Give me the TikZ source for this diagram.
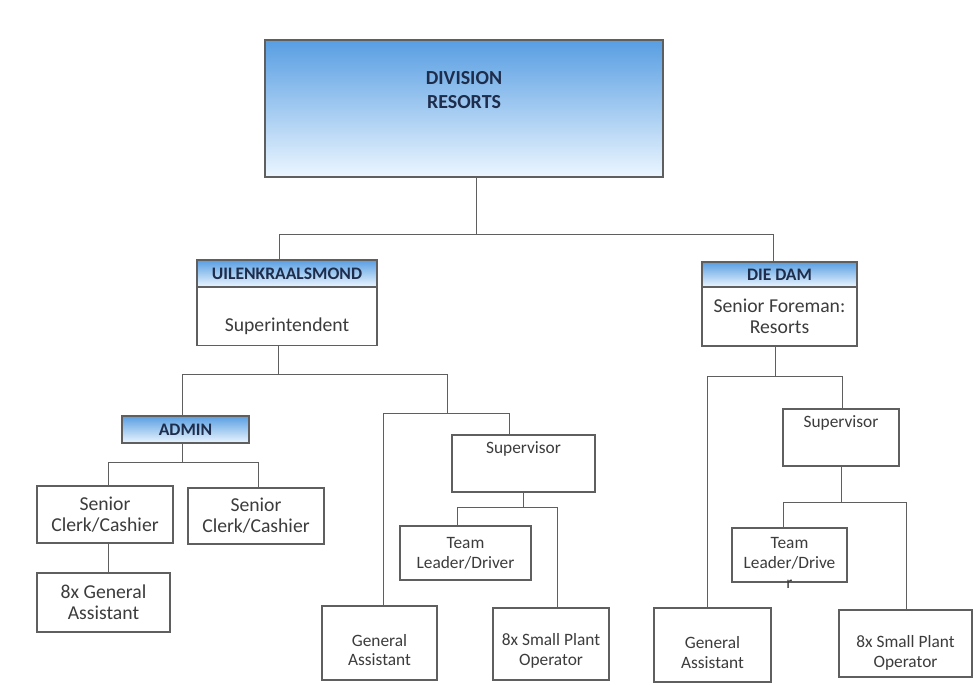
\documentclass[tikz,border=0pt]{standalone}
\usepackage{fontspec}
\setmainfont{Carlito}

\definecolor{boxline}{RGB}{95,95,95}
\definecolor{txtgray}{RGB}{60,60,60}
\definecolor{hdtext}{RGB}{30,45,75}
\definecolor{hdblue}{RGB}{88,158,226}
\definecolor{hdpale}{RGB}{236,246,255}

\newcommand{\pxu}{0.3mm}

\begin{document}
\begin{tikzpicture}[x=0.3mm, y=-0.3mm,
    boxsize/.style 2 args={minimum width=#1*\pxu, minimum height=#2*\pxu},
    box/.style={draw=boxline, line width=0.9pt, fill=white, inner sep=0pt,
      align=center, text=txtgray},
    hdbox/.style={box, top color=hdblue, bottom color=hdpale, text=hdtext,
      font=\fontsize{15}{17}\selectfont\bfseries},
    bigtxt/.style={font=\fontsize{16.8}{18}\selectfont, text=txtgray, align=center},
    smalltxt/.style={font=\fontsize{14.8}{17}\selectfont, text=txtgray, align=center},
    link/.style={draw=boxline, line width=0.8pt}]

  \useasboundingbox (0,0) rectangle (979,684);

  % division at the top, title sits high in the box
  \node[box, top color=hdblue, bottom color=hdpale, boxsize={398}{137},
    label={[font=\fontsize{17}{20}\selectfont\bfseries, text=hdtext,
      align=center, yshift=5.5mm]center:DIVISION\\RESORTS}] (div) at (464,108.5) {};

  % the two resorts
  \node[box, boxsize={180}{58},
    label={[bigtxt, yshift=-3mm]center:Superintendent}] (ubody) at (287,316.5) {};
  \node[hdbox, boxsize={180}{27}] (uhead) at (287,273.5) {UILENKRAALSMOND};
  \node[box, bigtxt, boxsize={155}{59}] (dbody) at (779.5,316.5) {Senior Foreman:\\Resorts};
  \node[hdbox, boxsize={155}{25}] (dhead) at (779.5,274.5) {DIE DAM};

  % admin side
  \node[hdbox, boxsize={127}{27}] (admin) at (185.5,429.5) {ADMIN};
  \node[box, bigtxt, boxsize={136}{57}] (clerka) at (105,514.5) {Senior\\Clerk/Cashier};
  \node[box, bigtxt, boxsize={136}{56}] (clerkb) at (256,516) {Senior\\Clerk/Cashier};
  \node[box, bigtxt, boxsize={133}{59}] (genass) at (103.5,602.5) {8x General\\Assistant};

  % field staff, uilenkraalsmond
  \node[box, boxsize={143}{57},
    label={[smalltxt, yshift=4.35mm]center:Supervisor}] (supu) at (523.5,463.5) {};
  \node[box, smalltxt, boxsize={131}{54}] (teamu) at (465.5,553) {Team\\Leader/Driver};
  \node[box, boxsize={115}{74},
    label={[smalltxt, yshift=-2.1mm]center:General\\Assistant}] (genu) at (379.5,643) {};
  \node[box, boxsize={116}{72},
    label={[smalltxt, yshift=-2.1mm]center:8x Small Plant\\Operator}] (plantu) at (551,644) {};

  % field staff, die dam
  \node[box, boxsize={116}{57},
    label={[smalltxt, yshift=4.35mm]center:Supervisor}] (supd) at (841,437.5) {};
  \node[box, boxsize={115}{54},
    label={[smalltxt, yshift=-2.4mm]center:Team\\Leader/Drive\\r}] (teamd) at (789.5,555) {};
  \node[box, boxsize={117}{74},
    label={[smalltxt, yshift=-2.25mm]center:General\\Assistant}] (gend) at (712.5,645) {};
  \node[box, boxsize={133}{67},
    label={[smalltxt, yshift=-2.85mm]center:8x Small Plant\\Operator}] (plantd) at (905.5,643.5) {};

  % junction points of the tree lines
  \coordinate (jtop) at (476,234);
  \coordinate (jul) at (279,234);
  \coordinate (jdr) at (773,234);
  \coordinate (jsu) at (278,374);
  \coordinate (jadm) at (182,374);
  \coordinate (jfld) at (447,374);
  \coordinate (jfld2) at (447,413);
  \coordinate (jga) at (383,413);
  \coordinate (jsp) at (509,413);
  \coordinate (jad) at (182,462);
  \coordinate (jca) at (108,462);
  \coordinate (jcb) at (258,462);
  \coordinate (jsv) at (523,507);
  \coordinate (jtl) at (457,507);
  \coordinate (jpl) at (557,507);
  \coordinate (jsf) at (775,376);
  \coordinate (jgd) at (707,376);
  \coordinate (jsd) at (842,376);
  \coordinate (jsv2) at (841,502);
  \coordinate (jtd) at (783,502);
  \coordinate (jpd) at (906,502);

  % top level lines
  \draw[link] (div.south -| jtop) -- (jtop);
  \draw[link] (uhead.north -| jul) -- (jul) -- (jdr) -- (dhead.north -| jdr);

  % uilenkraalsmond lines
  \draw[link] (ubody.south -| jsu) -- (jsu);
  \draw[link] (admin.north -| jadm) -- (jadm) -- (jfld) -- (jfld2);
  \draw[link] (genu.north -| jga) -- (jga) -- (jsp) -- (supu.north -| jsp);
  \draw[link] (admin.south -| jad) -- (jad);
  \draw[link] (clerka.north -| jca) -- (jca) -- (jcb) -- (clerkb.north -| jcb);
  \draw[link] (clerka.south -| jca) -- (genass.north -| jca);
  \draw[link] (supu.south -| jsv) -- (jsv);
  \draw[link] (teamu.north -| jtl) -- (jtl) -- (jpl) -- (plantu.north -| jpl);

  % die dam lines
  \draw[link] (dbody.south -| jsf) -- (jsf);
  \draw[link] (gend.north -| jgd) -- (jgd) -- (jsd) -- (supd.north -| jsd);
  \draw[link] (supd.south -| jsv2) -- (jsv2);
  \draw[link] (teamd.north -| jtd) -- (jtd) -- (jpd) -- (plantd.north -| jpd);

\end{tikzpicture}
\end{document}
